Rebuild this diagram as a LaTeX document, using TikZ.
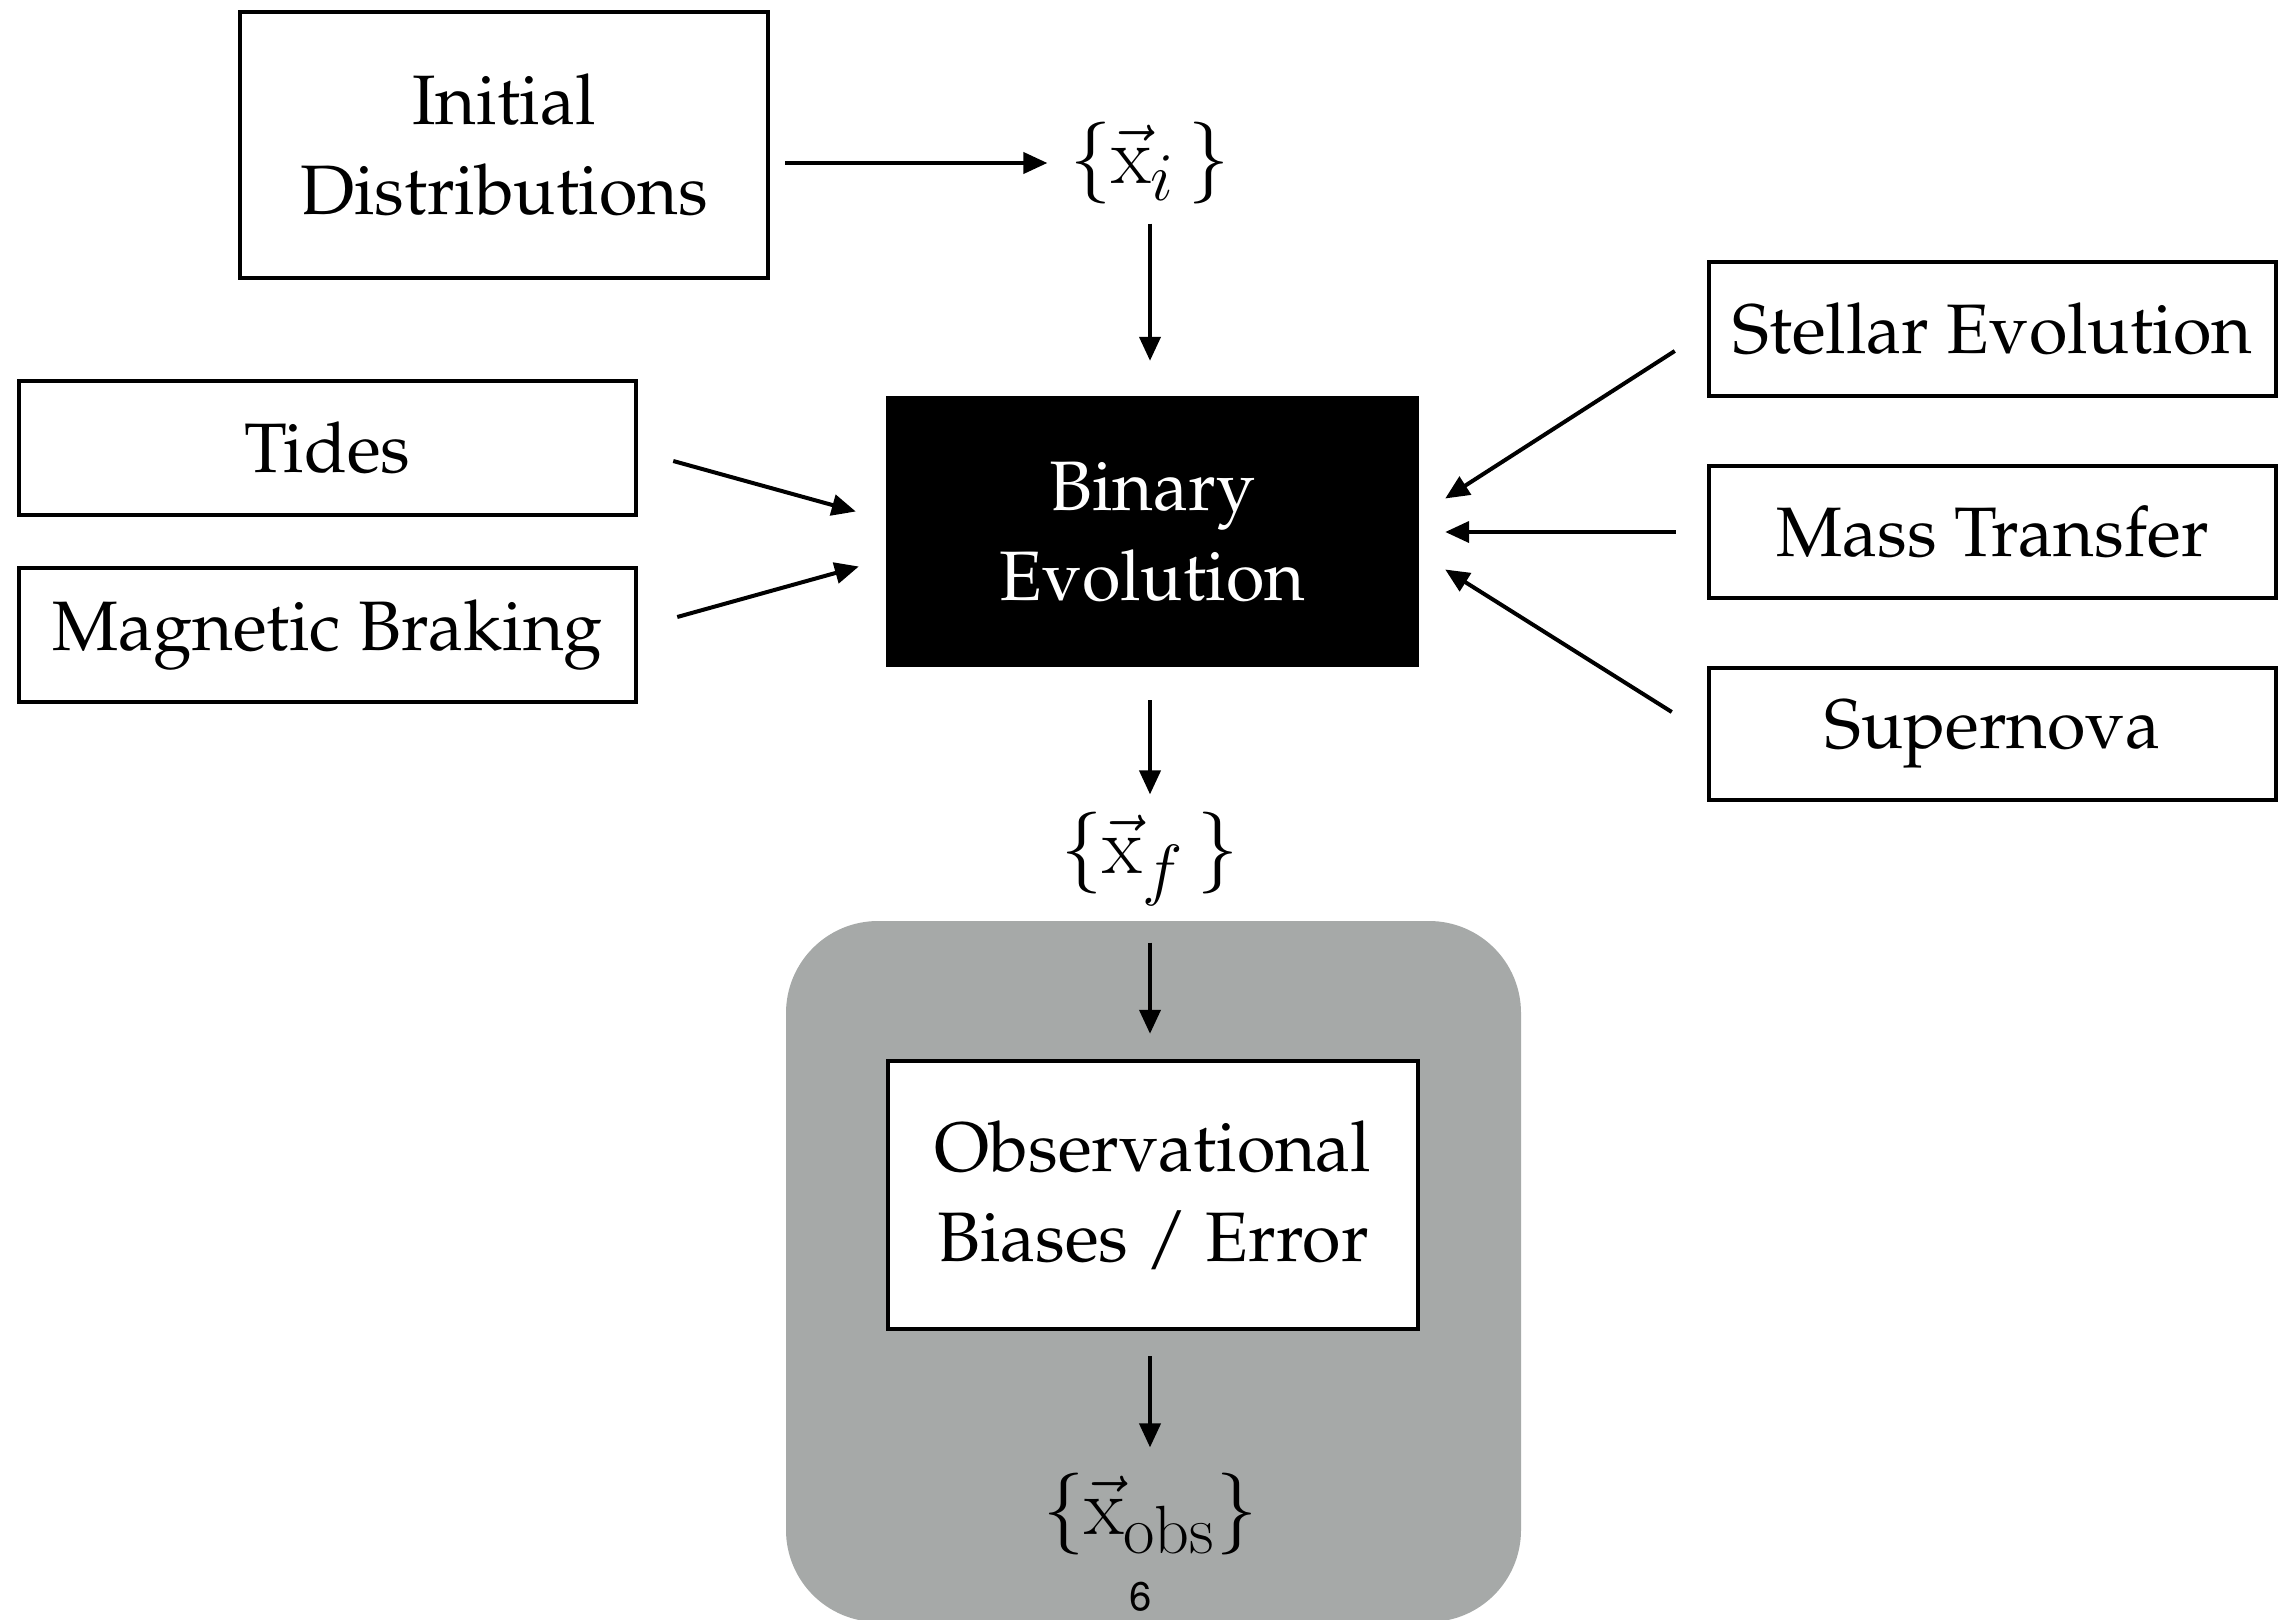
\documentclass[tikz,border=0pt]{standalone}
\usepackage[T1]{fontenc}
\renewcommand{\rmdefault}{ppl}
\usetikzlibrary{arrows.meta,calc}
\definecolor{boxgray}{RGB}{166,169,168}
\tikzset{
  every picture/.style={x=1pt,y=-1pt},
  lbox/.style={draw=black,line width=4.5pt,fill=white,rectangle,inner sep=0pt,align=center,
    font=\fontsize{70}{90}\selectfont},
  blackbox/.style={fill=black,rectangle,inner sep=0pt,align=center,text=white,
    font=\fontsize{70}{90}\selectfont},
  mathnode/.style={rectangle,inner sep=0pt,minimum width=54.7pt,minimum height=33.4pt,
    scale=3.29,transform shape,font=\fontsize{24.88}{30}\selectfont},
  arr/.style={line width=4pt,-{Triangle[length=24pt,width=21pt]}},
}
\begin{document}
\begin{tikzpicture}
\useasboundingbox (0,0) rectangle (2282,1619);
% grey background panel
\fill[boxgray,rounded corners=92pt] (786,921) rectangle (1521,1622);

\node[lbox,minimum width=528pt,minimum height=266pt] (init) at (504,145) {Initial\\Distributions};
\node[mathnode] (xi) at (1150,163) {$\{\vec{\mathrm{x}}_i\,\}$};
\node[blackbox,minimum width=533pt,minimum height=271pt] (binary) at (1152.5,531.5) {Binary\\Evolution};
\node[lbox,minimum width=617pt,minimum height=134pt] (tides) at (327.5,448) {Tides};
\node[lbox,minimum width=617pt,minimum height=134pt] (braking) at (327.5,635) {Magnetic Braking};
\node[lbox,minimum width=567pt,minimum height=134pt] (stellar) at (1992.5,329) {Stellar Evolution};
\node[lbox,minimum width=567pt,minimum height=132pt] (mass) at (1992.5,532) {Mass Transfer};
\node[lbox,minimum width=567pt,minimum height=132pt] (super) at (1992.5,734) {Supernova};
\node[mathnode] (xf) at (1150,859) {$\{\vec{\mathrm{x}}_f\,\}$};
\node[lbox,minimum width=530pt,minimum height=268pt] (obs) at (1153,1195) {Observational\\Biases / Error};
\node[mathnode] (xobs) at (1150,1514) {$\{\vec{\mathrm{x}}_{\mathrm{obs}}\}$};
\node[font=\fontfamily{phv}\fontsize{40}{44}\selectfont,inner sep=0pt] (pagenum) at (1141,1597) {6};

% connectors
\draw[arr,shorten <=15pt,shorten >=12pt] (xi -| init.east) -- (xi.west);
\draw[arr,shorten <=5pt,shorten >=35pt] (xi.south) -- (xi.south |- binary.north);
\draw[arr] ($(tides.east)+(35,13)$) -- ($(binary.west)+(-30,-20)$);
\draw[arr] ($(braking.east)+(39,-18)$) -- ($(binary.west)+(-27,35)$);
\draw[arr] ($(stellar.west)+(-32,22)$) -- ($(binary.east)+(26,-33)$);
\draw[arr,shorten <=31pt,shorten >=26pt] (mass.west) -- (mass.west -| binary.east);
\draw[arr] ($(super.west)+(-35,-22)$) -- ($(binary.east)+(26,38)$);
\draw[arr,shorten <=33pt,shorten >=9pt] (xf.north |- binary.south) -- (xf.north);
\draw[arr,shorten <=28pt,shorten >=25pt] (xf.south) -- (xf.south |- obs.north);
\draw[arr,shorten <=25pt,shorten >=11pt] (xobs.north |- obs.south) -- (xobs.north);
\end{tikzpicture}
\end{document}
